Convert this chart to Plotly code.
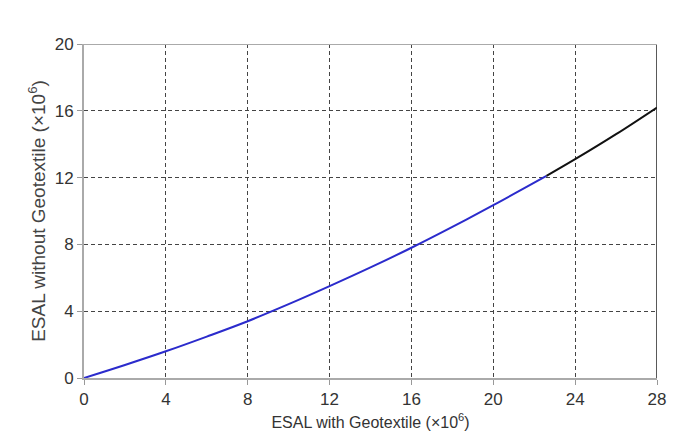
import plotly.graph_objects as go

# Data
x_blue = [0, 2, 4, 6, 8, 10, 12, 14, 16, 18, 20, 22.6]
y_blue = [0, 0.78, 1.6, 2.48, 3.4, 4.42, 5.5, 6.62, 7.8, 9.05, 10.35, 12.1]
x_black = [22.6, 24, 26, 28]
y_black = [12.1, 13.1, 14.6, 16.2]

x_ticks = [0, 4, 8, 12, 16, 20, 24, 28]
y_ticks = [0, 4, 8, 12, 16, 20]

fig = go.Figure()
fig.add_trace(go.Scatter(x=x_blue, y=y_blue, mode="lines", line=dict(color="#2b2bcc", width=2, shape="spline"), showlegend=False))
fig.add_trace(go.Scatter(x=x_black, y=y_black, mode="lines", line=dict(color="#111111", width=2, shape="spline"), showlegend=False))

fig.add_shape(type="line", x0=28, x1=28, y0=0, y1=20, xref="x", yref="y", line=dict(color="#222222", width=1.5))
fig.add_shape(type="line", x0=0, x1=28, y0=20, y1=20, xref="x", yref="y", line=dict(color="#aaaaaa", width=2))

fam = "Liberation Sans, Arial, sans-serif"
tickfont = dict(family=fam, size=17, color="#333333")
fig.update_layout(
    width=678, height=443,
    margin=dict(l=76, r=29, t=36, b=73),
    plot_bgcolor="white", paper_bgcolor="white",
    font=dict(family=fam, size=15, color="#333333"),
    xaxis=dict(range=[0, 28], tickvals=x_ticks, ticks="outside", ticklen=5, tickcolor="#999999",
               tickfont=tickfont, automargin=False,
               showline=True, linecolor="#aaaaaa", linewidth=2, mirror=False,
               showgrid=True, gridcolor="#444444", griddash="4px,3px", gridwidth=1, zeroline=False,
               title=dict(text="ESAL with Geotextile (×10<sup>6</sup>)", standoff=8,
                          font=dict(family=fam, size=16, color="#333333"))),
    yaxis=dict(range=[0, 20], tickvals=y_ticks, ticks="outside", ticklen=5, tickcolor="#999999",
               tickfont=tickfont, automargin=False,
               showline=True, linecolor="#aaaaaa", linewidth=2, mirror=False,
               showgrid=True, gridcolor="#444444", griddash="4px,3px", gridwidth=1, zeroline=False,
               title=dict(text="ESAL without Geotextile (×10<sup>6</sup>)", standoff=4,
                          font=dict(family=fam, size=19, color="#444444"))),
)

fig.write_html("out.html")
